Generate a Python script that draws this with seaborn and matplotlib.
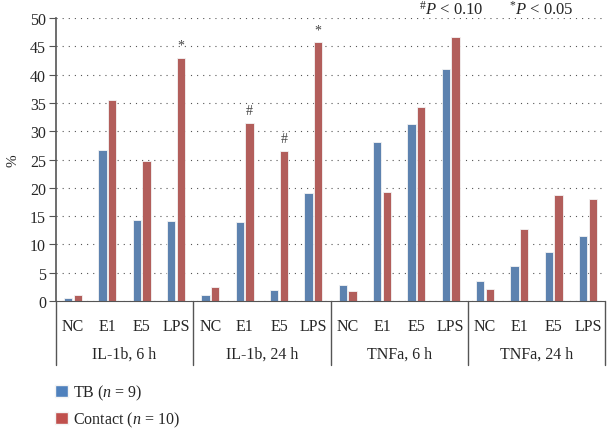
import numpy as np
import pandas as pd
import matplotlib
matplotlib.use("Agg")
import matplotlib.pyplot as plt
import matplotlib.transforms as mtransforms
from matplotlib.patches import Patch
import seaborn as sns

# data
panels = ["IL-1b, 6 h", "IL-1b, 24 h", "TNFa, 6 h", "TNFa, 24 h"]
stimuli = ["NC", "E1", "E5", "LPS"]
tb_values = [0.6, 26.7, 14.3, 14.2,
             1.1, 14.0, 2.0, 19.0,
             2.8, 28.1, 31.3, 41.0,
             3.5, 6.1, 8.7, 11.4]
contact_values = [1.1, 35.5, 24.8, 43.0,
                  2.5, 31.5, 26.5, 45.8,
                  1.7, 19.2, 34.3, 46.7,
                  2.2, 12.8, 18.7, 18.1]
series_names = ["TB ($n$ = 9)", "Contact ($n$ = 10)"]
# significance marks on the Contact bars (bar index, symbol)
marks = [(3, "*"), (5, "#"), (6, "#"), (7, "*")]

sns.set_style("white")
plt.rcParams['font.family'] = ['Liberation Serif', 'DejaVu Serif']
plt.rcParams['mathtext.fontset'] = 'custom'
plt.rcParams['mathtext.rm'] = 'Liberation Serif'
plt.rcParams['mathtext.it'] = 'Liberation Serif:italic'

slots = [f"{p}|{s}" for p in panels for s in stimuli]
df = pd.DataFrame({
    "slot": slots * 2,
    "value": tb_values + contact_values,
    "series": [series_names[0]] * len(slots) + [series_names[1]] * len(slots),
})

colors = ["#4F81BD", "#C0504D"]
fig = plt.figure(figsize=(6.07, 4.31), dpi=100)
ax = fig.add_axes([0.092, 0.2993, 0.905, 0.6566])

sns.barplot(data=df, x="slot", y="value", hue="series", order=slots,
            hue_order=series_names, palette=colors, width=0.56, gap=0.15,
            edgecolor="#f4f4f4", linewidth=0.6, ax=ax, legend=False)

ax.set_ylim(0, 50)
ax.set_xlim(-0.5, len(slots) - 0.5)
ax.set_yticks(range(0, 51, 5))
ax.yaxis.grid(True, linestyle=(0, (1, 4.5)), color="#555555", linewidth=0.8)
ax.set_axisbelow(True)
for s in ["top", "right"]:
    ax.spines[s].set_visible(False)
ax.spines["left"].set_color("#555555")
ax.spines["bottom"].set_color("#555555")
ax.spines["left"].set_linewidth(1.2)
ax.tick_params(axis="y", left=True, length=5, color="#555555", labelsize=11.5, pad=2)
ax.tick_params(axis="x", bottom=False, labelsize=11.5, pad=9)
ax.set_xticks(range(len(slots)))
ax.set_xticklabels(stimuli * len(panels))
ax.set_xlabel("")
ax.set_ylabel("%", fontsize=11, labelpad=8)

# panel separators and panel labels below the axis
trans = mtransforms.blended_transform_factory(ax.transData, ax.transAxes)
for k in range(len(panels) + 1):
    xs = k * len(stimuli) - 0.5
    ax.plot([xs, xs], [0, -0.225], transform=trans, color="#555555",
            linewidth=1.0, clip_on=False)
for k, p in enumerate(panels):
    xc = k * len(stimuli) + (len(stimuli) - 1) / 2
    ax.text(xc, -0.187, p, transform=trans, ha="center", va="center", fontsize=11.5)

# significance marks
for idx, sym in marks:
    bar = ax.containers[1][idx]
    ax.text(bar.get_x() + bar.get_width() / 2, bar.get_height() + 1.0,
            sym, ha="center", va="bottom", fontsize=10, color="#444444")

fig.text(0.69, 0.978, r"$^{\#}P$ < 0.10", ha="left", va="center", fontsize=12)
fig.text(0.838, 0.978, r"$^{*}P$ < 0.05", ha="left", va="center", fontsize=12)

handles = [Patch(facecolor=c, edgecolor="#f4f4f4") for c in colors]
fig.legend(handles, series_names, loc="lower left", bbox_to_anchor=(0.09, 0.0),
           frameon=False, fontsize=11.5, handlelength=0.8, handleheight=0.8,
           handletextpad=0.3, labelspacing=0.5, borderpad=0.05, borderaxespad=0)

fig.savefig("out.png", dpi=100)
